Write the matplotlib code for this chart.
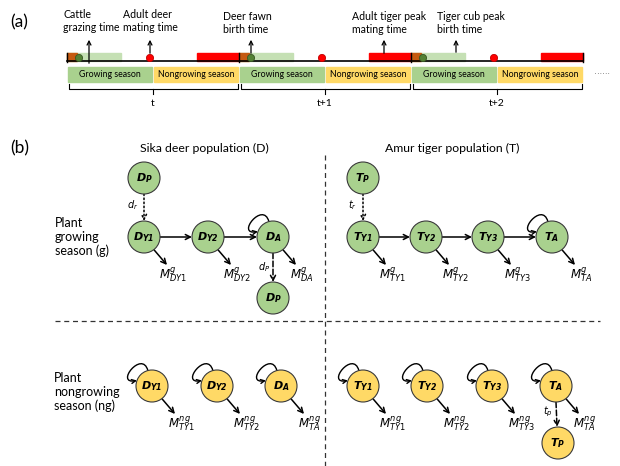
import matplotlib
matplotlib.use("Agg")
import matplotlib.pyplot as plt
import numpy as np
from matplotlib.patches import Circle, Rectangle, FancyArrowPatch
from matplotlib.path import Path

plt.rcParams["font.family"] = ["Lato", "DejaVu Sans"]
plt.rcParams["mathtext.fontset"] = "dejavusans"

# ---- panel (a) timeline content ----
PERIOD_LABELS = ["t", "t+1", "t+2"]
SEASON_LABELS = ["Growing season", "Nongrowing season"]
EVENT_TEXTS = [
    "Cattle\ngrazing time",
    "Adult deer\nmating time",
    "Deer fawn\nbirth time",
    "Adult tiger peak\nmating time",
    "Tiger cub peak\nbirth time",
]

# ---- panel (b) node content ----
DEER_TITLE = "Sika deer population (D)"
TIGER_TITLE = "Amur tiger population (T)"
ROW_LABELS = ["Plant\ngrowing\nseason (g)", "Plant\nnongrowing\nseason (ng)"]
DEER_STAGES = ["D_{Y1}", "D_{Y2}", "D_{A}"]
TIGER_STAGES = ["T_{Y1}", "T_{Y2}", "T_{Y3}", "T_{A}"]
DEER_G_MORT = ["DY1", "DY2", "DA"]
TIGER_G_MORT = ["TY1", "TY2", "TY3", "TA"]
DEER_NG_MORT = ["TY1", "TY2", "TA"]   # as printed in the source figure
TIGER_NG_MORT = ["TY1", "TY2", "TY3", "TA"]

GREEN_BOX = "#a9d18e"
YELLOW_BOX = "#ffd966"
LIGHT_GREEN = "#c5e0b4"
BROWN = "#c55a11"
RED = "#ff0000"
DARK_GREEN = "#548235"
NODE_R = 16

fig = plt.figure(figsize=(6.2, 4.66), dpi=100)
ax = fig.add_axes([0, 0, 1, 1])
ax.set_xlim(0, 620)
ax.set_ylim(466, 0)
ax.axis("off")

# ================= (a) =================
ax.text(10, 22, "(a)", fontsize=12.5, va="center", ha="left")
x0, period = 67, 172
ax.plot([x0, x0 + 3 * period], [61, 61], color="black", lw=1.2, zorder=3)
for k in range(3):
    px = x0 + k * period
    # timeline strips
    ax.add_patch(Rectangle((px, 53), 54, 8, color=LIGHT_GREEN, zorder=1))
    ax.add_patch(Rectangle((px, 53), 10, 8, color=BROWN, zorder=2))
    ax.add_patch(Rectangle((px + 130, 53), 42, 8, color=RED, zorder=2))
    ax.add_patch(Circle((px + 12, 58), 3.6, facecolor=DARK_GREEN, edgecolor="#385723", lw=0.6, zorder=4))
    ax.add_patch(Circle((px + 83, 58), 3.6, facecolor=RED, edgecolor="#c00000", lw=0.6, zorder=4))
    # season boxes
    ax.add_patch(Rectangle((px + 1, 67), 84, 15, color=GREEN_BOX, zorder=1))
    ax.add_patch(Rectangle((px + 87, 67), 84, 15, color=YELLOW_BOX, zorder=1))
    ax.text(px + 43, 74.5, SEASON_LABELS[0], fontsize=6.3, ha="center", va="center")
    ax.text(px + 129, 74.5, SEASON_LABELS[1], fontsize=6.3, ha="center", va="center")
    # brace
    bx0, bx1, cx = px + 2, px + period - 1, px + period / 2
    ax.plot([bx0, bx0, bx1, bx1], [84, 89, 89, 84], color="black", lw=0.8)
    ax.plot([cx, cx], [89, 94], color="black", lw=0.8)
    ax.text(cx, 103, PERIOD_LABELS[k], fontsize=7.5, ha="center", va="center")
for tx in [x0, x0 + period, x0 + 2 * period, x0 + 3 * period]:
    ax.plot([tx, tx], [53, 62], color="black", lw=1.0, zorder=3)
ax.text(602, 72, ". . . . . .", fontsize=4, ha="center", va="center")

event_text_xy = [(63, 21), (123, 21), (223, 23), (352, 23), (437, 23)]
event_arrow = [(89, 66), (150, 56), (251, 56), (384, 56), (456, 55)]
for txt, (tx, ty), (ax_, ay) in zip(EVENT_TEXTS, event_text_xy, event_arrow):
    ax.text(tx, ty, txt, fontsize=7.6, ha="left", va="center", linespacing=1.2)
    ax.annotate("", xy=(ax_, 37), xytext=(ax_, ay),
                arrowprops=dict(arrowstyle="->", lw=0.9, color="black", mutation_scale=7))

# ================= (b) =================
ax.text(10, 148, "(b)", fontsize=12.5, va="center", ha="left")
ax.text(204, 148, DEER_TITLE, fontsize=8.8, ha="center", va="center")
ax.text(452, 148, TIGER_TITLE, fontsize=8.8, ha="center", va="center")
ax.plot([325, 325], [155, 466], color="#333333", lw=0.9, ls=(0, (4, 3)))
ax.plot([55, 600], [321, 321], color="#333333", lw=0.9, ls=(0, (4, 3)))
ax.text(55, 237, ROW_LABELS[0], fontsize=9, ha="left", va="center", linespacing=1.2)
ax.text(54, 392, ROW_LABELS[1], fontsize=9, ha="left", va="center", linespacing=1.2)


def node(x, y, name, color):
    ax.add_patch(Circle((x, y), NODE_R, facecolor=color, edgecolor="#3a3a3a", lw=0.8, zorder=3))
    ax.text(x, y, r"$\mathbfit{%s}$" % name.replace("_{", "}_{\\mathbfit{"), fontsize=8,
            ha="center", va="center", zorder=4)


def arrow(p0, p1, ls="-"):
    ax.add_patch(FancyArrowPatch(p0, p1, arrowstyle="->", mutation_scale=9, lw=1.1,
                                 color="black", linestyle=ls, zorder=2, shrinkA=0, shrinkB=0))


def self_loop(x, y):
    r = NODE_R
    def pt(a, d):
        t = np.radians(a)
        return (x + d * np.cos(t), y - d * np.sin(t))
    verts = [pt(105, r), pt(105, r + 22), pt(178, r + 22), pt(160, r)]
    path = Path(verts, [Path.MOVETO, Path.CURVE4, Path.CURVE4, Path.CURVE4])
    ax.add_patch(FancyArrowPatch(path=path, arrowstyle="->", mutation_scale=7, lw=1.0,
                                 color="black", zorder=2))


def mortality(x, y, sup, sub):
    t = np.radians(-52)
    arrow((x + NODE_R * np.cos(t), y - NODE_R * np.sin(t)), (x + 23, y + 28))
    ax.text(x + 29, y + 38, r"$M^{%s}_{\mathit{%s}}$" % (sup, sub), fontsize=8.5,
            ha="center", va="center")


# growing season
deer_g_x = [144, 208, 273]
tiger_g_x = [363, 426, 488, 552]
yg = 237
for xs, names, morts, color in [(deer_g_x, DEER_STAGES, DEER_G_MORT, GREEN_BOX),
                                (tiger_g_x, TIGER_STAGES, TIGER_G_MORT, GREEN_BOX)]:
    for i, (x, nm, mt) in enumerate(zip(xs, names, morts)):
        node(x, yg, nm, color)
        mortality(x, yg, "g", mt)
        if i + 1 < len(xs):
            arrow((x + NODE_R, yg), (xs[i + 1] - NODE_R, yg))
    self_loop(xs[-1], yg)

# recruitment into growing season
node(144, 178, "D_{P}", GREEN_BOX)
arrow((144, 178 + NODE_R), (144, yg - NODE_R), ls=":")
ax.text(133, 205, r"$d_r$", fontsize=7, ha="center", va="center")
node(363, 178, "T_{P}", GREEN_BOX)
arrow((363, 178 + NODE_R), (363, yg - NODE_R), ls=":")
ax.text(352, 205, r"$t_r$", fontsize=7, ha="center", va="center")
# deer births
node(273, 298, "D_{P}", GREEN_BOX)
arrow((273, yg + NODE_R), (273, 298 - NODE_R), ls="--")
ax.text(264, 267, r"$d_P$", fontsize=7, ha="center", va="center")

# nongrowing season
deer_ng_x = [152, 217, 281]
tiger_ng_x = [363, 427, 492, 556]
yng = 386
for xs, names, morts in [(deer_ng_x, DEER_STAGES, DEER_NG_MORT),
                         (tiger_ng_x, TIGER_STAGES, TIGER_NG_MORT)]:
    for x, nm, mt in zip(xs, names, morts):
        node(x, yng, nm, YELLOW_BOX)
        self_loop(x, yng)
        mortality(x, yng, "ng", mt)

node(558, 443, "T_{P}", YELLOW_BOX)
arrow((556, yng + NODE_R), (557, 443 - NODE_R), ls="--")
ax.text(548, 412, r"$t_p$", fontsize=7, ha="center", va="center")

fig.savefig("out.png", dpi=100)
